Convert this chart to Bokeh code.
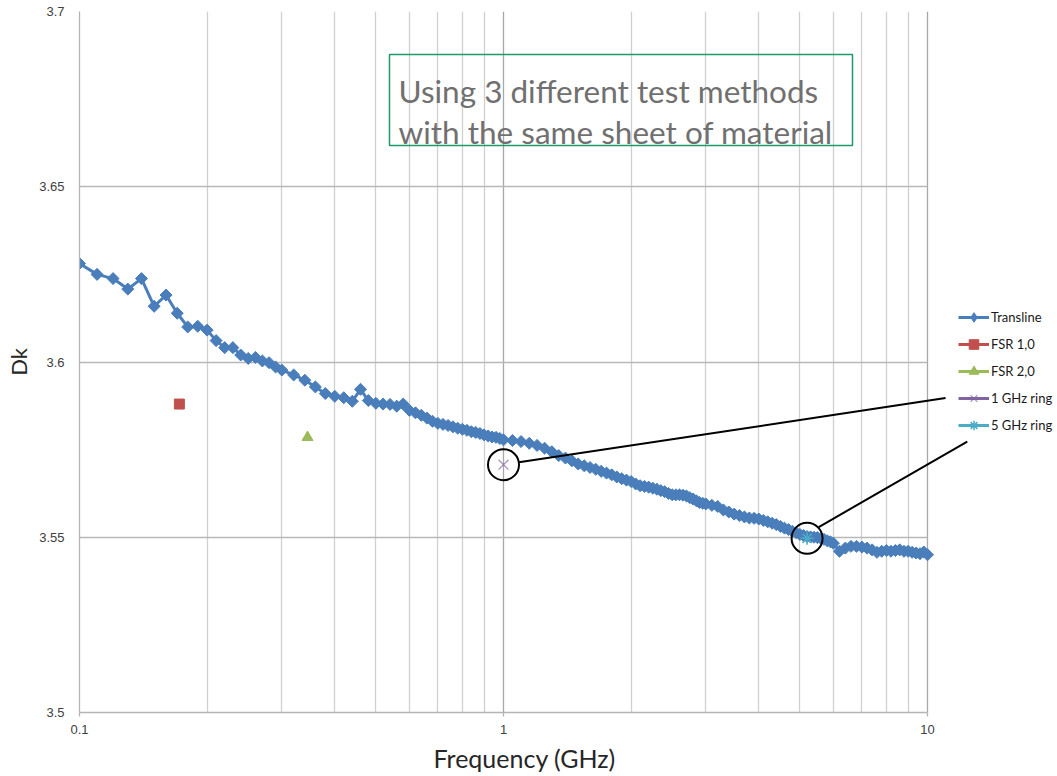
import numpy as np
from bokeh.plotting import figure
from bokeh.models import (Range1d, FixedTicker, Legend, LegendItem, Label, BoxAnnotation,
                          Arrow, Title)
from bokeh.embed import file_html
from bokeh.resources import INLINE

# ---------------- data ----------------
trans_freq = [
    0.10, 0.11, 0.12, 0.13, 0.14, 0.15, 0.16, 0.17, 0.18, 0.19, 0.20,
    0.21, 0.22, 0.23, 0.24, 0.25, 0.26, 0.27, 0.28, 0.29, 0.30,
    0.32, 0.34, 0.36, 0.38, 0.40, 0.42, 0.44, 0.46, 0.48, 0.50,
    0.52, 0.54, 0.56, 0.58, 0.60, 0.62, 0.64, 0.66, 0.68, 0.70,
    0.72, 0.74, 0.76, 0.78, 0.80, 0.82, 0.84, 0.86, 0.88, 0.90,
    0.92, 0.94, 0.96, 0.98, 1.00,
    1.05, 1.10, 1.15, 1.20, 1.25, 1.30, 1.35, 1.40, 1.45, 1.50,
    1.55, 1.60, 1.65, 1.70, 1.75, 1.80, 1.85, 1.90, 1.95, 2.00,
    2.05, 2.10, 2.15, 2.20, 2.25, 2.30, 2.35, 2.40, 2.45, 2.50,
    2.55, 2.60, 2.65, 2.70, 2.75, 2.80, 2.85, 2.90, 2.95, 3.00,
    3.1, 3.2, 3.3, 3.4, 3.5, 3.6, 3.7, 3.8, 3.9, 4.0,
    4.1, 4.2, 4.3, 4.4, 4.5, 4.6, 4.7, 4.8, 4.9, 5.0,
    5.1, 5.2, 5.3, 5.4, 5.5, 5.6, 5.7, 5.8, 5.9, 6.0,
    6.2, 6.4, 6.6, 6.8, 7.0, 7.2, 7.4, 7.6, 7.8, 8.0,
    8.2, 8.4, 8.6, 8.8, 9.0, 9.2, 9.4, 9.6, 9.8, 10.0,
]
trans_dk = [
    3.6281, 3.6250, 3.6238, 3.6208, 3.6238, 3.6159, 3.6191, 3.6139, 3.6100, 3.6102, 3.6091,
    3.6061, 3.6041, 3.6041, 3.6020, 3.6010, 3.6013, 3.6003, 3.5998, 3.5986, 3.5977,
    3.5963, 3.5948, 3.5929, 3.5910, 3.5902, 3.5898, 3.5888, 3.5922, 3.5890, 3.5882,
    3.5880, 3.5879, 3.5874, 3.5880, 3.5862, 3.5855, 3.5848, 3.5840, 3.5831, 3.5825,
    3.5822, 3.5819, 3.5815, 3.5811, 3.5808, 3.5805, 3.5801, 3.5799, 3.5796, 3.5792,
    3.5789, 3.5786, 3.5785, 3.5782, 3.5778,
    3.5776, 3.5773, 3.5768, 3.5762, 3.5754, 3.5744, 3.5733, 3.5726, 3.5718, 3.5709,
    3.5704, 3.5699, 3.5694, 3.5688, 3.5683, 3.5678, 3.5672, 3.5667, 3.5663, 3.5659,
    3.5652, 3.5647, 3.5645, 3.5643, 3.5640, 3.5637, 3.5633, 3.5630, 3.5625, 3.5621,
    3.5621, 3.5621, 3.5620, 3.5618, 3.5613, 3.5609, 3.5604, 3.5599, 3.5597, 3.5595,
    3.5591, 3.5588, 3.5578, 3.5572, 3.5566, 3.5562, 3.5558, 3.5555, 3.5554, 3.5552,
    3.5548, 3.5544, 3.5540, 3.5536, 3.5531, 3.5526, 3.5522, 3.5517, 3.5513, 3.5508,
    3.5505, 3.5502, 3.5501, 3.5500, 3.5499, 3.5497, 3.5494, 3.5490, 3.5487, 3.5483,
    3.5460, 3.5469, 3.5474, 3.5474, 3.5472, 3.5469, 3.5464, 3.5457, 3.5460, 3.5462,
    3.5460, 3.5462, 3.5464, 3.5460, 3.5460, 3.5457, 3.5455, 3.5453, 3.5458, 3.5450,
]
fsr10_freq = [0.172]
fsr10_dk = [3.5880]
fsr20_freq = [0.345]
fsr20_dk = [3.5785]
ring1_freq = [1.0]
ring1_dk = [3.5707]
ring5_freq = [5.2]
ring5_dk = [3.5497]

series_names = ["Transline", "FSR 1,0", "FSR 2,0", "1 GHz ring", "5 GHz ring"]
series_colors = ["#4A7EBB", "#C0504D", "#9BBB59", "#8064A2", "#4BACC6"]

x_min, x_max = 0.1, 10
y_min, y_max = 3.5, 3.7
x_ticks = [0.1, 1, 10]
x_tick_labels = ["0.1", "1", "10"]
x_minor_ticks = [0.2, 0.3, 0.4, 0.5, 0.6, 0.7, 0.8, 0.9, 2, 3, 4, 5, 6, 7, 8, 9]
y_ticks = [3.5, 3.55, 3.6, 3.65, 3.7]
y_tick_labels = ["3.5", "3.55", "3.6", "3.65", "3.7"]

x_title = "Frequency (GHz)"
y_title = "Dk"
note_lines = ["Using 3 different test methods", "with the same sheet of material"]

# ---------------- figure ----------------
# the frame is widened to the right edge so that the legend and the callout
# lines (which sit outside the 0.1-10 GHz plotting area) are not clipped
decades_visible = np.log10(x_max) - np.log10(x_min)
px_per_decade = 848 / decades_visible
x_right = x_max * 10 ** (130 / px_per_decade)

p = figure(width=1057, height=776, x_axis_type="log",
           x_range=Range1d(x_min, x_right), y_range=Range1d(y_min, y_max),
           output_backend="svg", toolbar_location=None,
           min_border_left=79, min_border_right=0,
           min_border_top=11, min_border_bottom=63)
p.outline_line_color = None
p.background_fill_color = "white"
p.border_fill_color = "white"

# axes
p.xaxis.ticker = FixedTicker(ticks=x_ticks, minor_ticks=x_minor_ticks)
p.xaxis.major_label_overrides = dict(zip(x_ticks, x_tick_labels))
p.xaxis.bounds = (x_min, x_max)
p.yaxis.ticker = FixedTicker(ticks=y_ticks)
p.yaxis.major_label_overrides = dict(zip(y_ticks, y_tick_labels))

for ax in (p.xaxis[0], p.yaxis[0]):
    ax.axis_line_color = "#b4b4b4"
    ax.axis_line_width = 1.3
    ax.major_tick_line_color = "#b4b4b4"
    ax.major_tick_line_width = 1.3
    ax.major_tick_in = 0
    ax.minor_tick_in = 0
    ax.minor_tick_out = 0
    ax.major_label_text_font = "Liberation Sans"
    ax.major_label_text_font_size = "13px"
    ax.major_label_text_color = "#404040"
    ax.axis_label_text_font = "Lato"
    ax.axis_label_text_font_style = "normal"
    ax.axis_label_text_color = "#262626"

p.xaxis.major_tick_out = 4
p.xaxis.major_label_standoff = 8

p.yaxis.major_tick_out = 0
p.yaxis.major_label_standoff = 15
p.yaxis.axis_label = y_title
p.yaxis.axis_label_text_font_size = "22px"
p.yaxis.axis_label_standoff = 4

# x-axis title as a Title in the lower panel so it can be centred like the original
p.add_layout(Title(text=x_title, align="left", offset=354, standoff=8,
                   text_font="Lato", text_font_size="25px", text_font_style="normal",
                   text_color="#262626"), "below")

# grids
p.xgrid.ticker = p.xaxis.ticker
p.ygrid.ticker = p.yaxis.ticker
p.xgrid.grid_line_color = "#a8a8a8"
p.xgrid.grid_line_width = 1.3
p.xgrid.minor_grid_line_color = "#d0d0d0"
p.xgrid.minor_grid_line_width = 1.3
p.ygrid.grid_line_color = "#b8b8b8"
p.ygrid.grid_line_width = 1.5
p.ygrid.cross_bounds = (x_min, x_max)

# ---------------- series ----------------
l_tr = p.line(trans_freq, trans_dk, line_width=3, color=series_colors[0])
s_tr = p.scatter(trans_freq, trans_dk, marker="square", angle=np.pi / 4, size=8.5,
                 color=series_colors[0])
# legend proxy for the diamond marker (legend glyphs ignore marker rotation)
s_tr_leg = p.scatter(trans_freq[:1], trans_dk[:1], marker="diamond", size=14,
                     color=series_colors[0], visible=False)

l_f1 = p.line(fsr10_freq, fsr10_dk, line_width=3, color=series_colors[1])
s_f1 = p.scatter(fsr10_freq, fsr10_dk, marker="square", size=10, color=series_colors[1])

l_f2 = p.line(fsr20_freq, fsr20_dk, line_width=3, color=series_colors[2])
s_f2 = p.scatter(fsr20_freq, fsr20_dk, marker="triangle", size=11, color=series_colors[2])

l_r1 = p.line(ring1_freq, ring1_dk, line_width=3, color=series_colors[3])
s_r1 = p.scatter(ring1_freq, ring1_dk, marker="x", size=14, line_width=1.3,
                 line_color=series_colors[3], line_alpha=0.7)

l_r5 = p.line(ring5_freq, ring5_dk, line_width=3, color=series_colors[4])
s_r5 = p.scatter(ring5_freq, ring5_dk, marker="asterisk", size=13, line_width=1.5,
                 line_color=series_colors[4])

# highlight circles around ring points
p.scatter(ring1_freq, ring1_dk, marker="circle", size=31, fill_color=None,
          line_color="black", line_width=2)
p.scatter(ring5_freq, ring5_dk, marker="circle", size=31, fill_color=None,
          line_color="black", line_width=2)

# callout lines (from circle edge to legend)
p.add_layout(Arrow(end=None, x_start=1.087, y_start=3.5714, x_end=11.03, y_end=3.5897,
                   line_color="black", line_width=2))
p.add_layout(Arrow(end=None, x_start=5.54, y_start=3.5529, x_end=12.41, y_end=3.5773,
                   line_color="black", line_width=2))

# ---------------- legend ----------------
legend = Legend(items=[
    LegendItem(label=series_names[0], renderers=[l_tr, s_tr_leg]),
    LegendItem(label=series_names[1], renderers=[l_f1, s_f1]),
    LegendItem(label=series_names[2], renderers=[l_f2, s_f2]),
    LegendItem(label=series_names[3], renderers=[l_r1, s_r1]),
    LegendItem(label=series_names[4], renderers=[l_r5, s_r5]),
], location=(879, 275))
legend.click_policy = "none"
legend.border_line_color = None
legend.background_fill_alpha = 0
legend.glyph_width = 31
legend.glyph_height = 24
legend.label_height = 20
legend.spacing = 3
legend.padding = 10
legend.margin = 0
legend.label_standoff = 2
legend.label_text_font = "Lato"
legend.label_text_font_size = "13px"
legend.label_text_color = "#1a1a1a"
p.add_layout(legend)

# ---------------- note box ----------------
p.add_layout(BoxAnnotation(left=310, right=773, top=658, bottom=567,
                           left_units="screen", right_units="screen",
                           top_units="screen", bottom_units="screen",
                           fill_alpha=0, line_color="#1F9A6A", line_alpha=1,
                           line_width=1.5))
p.add_layout(Label(x=319, y=622, x_units="screen", y_units="screen", text=note_lines[0],
                   text_font="Lato", text_font_size="31.5px", text_color="#707070",
                   text_baseline="alphabetic"))
p.add_layout(Label(x=319, y=581, x_units="screen", y_units="screen", text=note_lines[1],
                   text_font="Lato", text_font_size="31.5px", text_color="#707070",
                   text_baseline="alphabetic"))

open("out.html", "w").write(file_html(p, INLINE))
